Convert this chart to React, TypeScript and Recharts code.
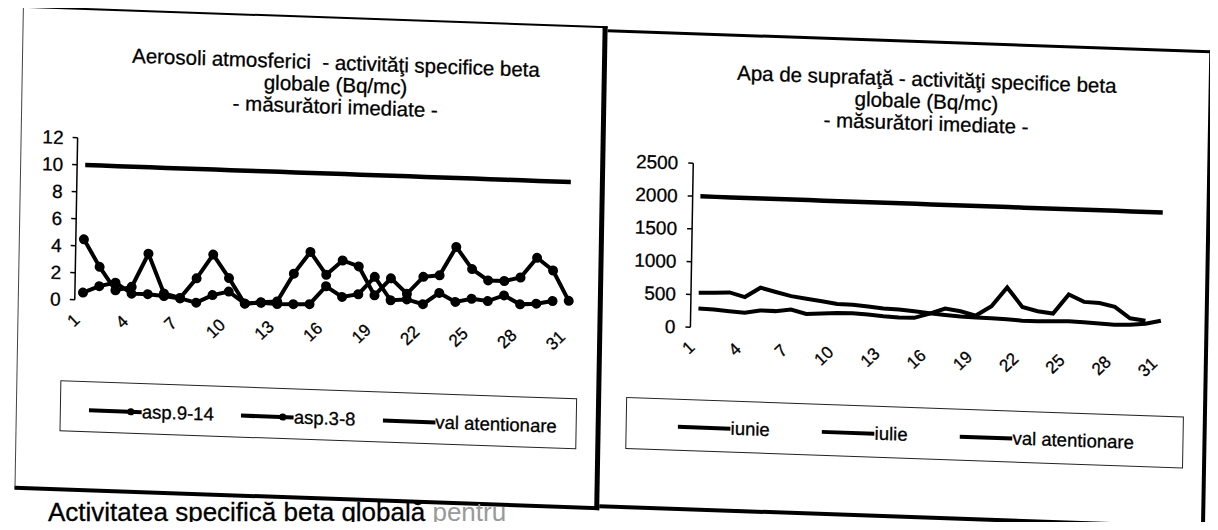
import React from 'react';
import { LineChart, Line, XAxis, YAxis, Legend } from 'recharts';

const FONT = '"Liberation Sans", Arial, sans-serif';

// zilele lunii
const days = [1, 2, 3, 4, 5, 6, 7, 8, 9, 10, 11, 12, 13, 14, 15, 16, 17, 18, 19, 20, 21, 22, 23, 24, 25, 26, 27, 28, 29, 30, 31];
const dayLabels = [1, 4, 7, 10, 13, 16, 19, 22, 25, 28, 31];

// Aerosoli atmosferici (Bq/mc)
const asp914 = [4.5, 2.5, 0.8, 1.1, 3.6, 0.7, 0.4, 1.9, 3.7, 2.0, 0.15, 0.3, 0.4, 2.5, 4.15, 2.5, 3.6, 3.2, 1.1, 2.4, 1.3, 2.6, 2.75, 4.9, 3.3, 2.5, 2.5, 2.8, 4.3, 3.4, 1.2];
const asp38 = [0.55, 1.07, 1.37, 0.6, 0.6, 0.5, 0.37, 0.1, 0.7, 1.0, 0.17, 0.25, 0.2, 0.24, 0.28, 1.65, 0.9, 1.14, 2.47, 0.78, 0.88, 0.57, 1.45, 0.82, 1.1, 0.97, 1.43, 0.81, 0.9, 1.14];
const valAerosoli = [10, 10, 10, 10, 10, 10, 10, 10, 10, 10, 10, 10, 10, 10, 10, 10, 10, 10, 10, 10, 10, 10, 10, 10, 10, 10, 10, 10, 10, 10, 10];
const aerosoliTicks = [0, 2, 4, 6, 8, 10, 12];

// Apa de suprafata (Bq/mc)
const iunie = [291, 283, 266, 249, 293, 291, 324, 265, 279, 297, 300, 288, 270, 258, 262, 335, 420, 388, 330, 480, 775, 486, 428, 401, 700, 596, 588, 536, 370, 340];
const iulie = [530, 538, 551, 489, 640, 583, 528, 495, 467, 433, 430, 410, 390, 380, 364, 341, 323, 306, 299, 297, 290, 277, 275, 285, 293, 286, 273, 265, 273, 297, 350];
const valApa = [2000, 2000, 2000, 2000, 2000, 2000, 2000, 2000, 2000, 2000, 2000, 2000, 2000, 2000, 2000, 2000, 2000, 2000, 2000, 2000, 2000, 2000, 2000, 2000, 2000, 2000, 2000, 2000, 2000, 2000, 2000];
const apaTicks = [0, 500, 1000, 1500, 2000, 2500];

const dayEdges = [...days.map((d) => d - 0.5), days.length + 0.5];
const xDomain = [0.5, days.length + 0.5];

const aerosoliData = days.map((d, i) => ({ zi: d, asp914: asp914[i], asp38: asp38[i], val: valAerosoli[i] }));
const apaData = days.map((d, i) => ({ zi: d, iunie: iunie[i], iulie: iulie[i], val: valApa[i] }));

const axisStroke = { stroke: '#000', strokeWidth: 1.5 };
const yTick = { fill: '#000', fontSize: 19, fontFamily: FONT, stroke: '#000', strokeWidth: 0.3 };

const XLabel = (props: any) => {
  const { x, y, payload } = props;
  const tx = x - 6;
  const ty = y + 17;
  return (
    <text x={tx} y={ty} dy="0.35em" textAnchor="end" transform={`rotate(-45 ${tx} ${ty})`}
      fill="#000" stroke="#000" strokeWidth={0.3} fontSize={17} fontFamily={FONT}>
      {payload.value}
    </text>
  );
};

const NoLabel = () => <g />;

// legenda in stil Excel: mostra de linie, apoi textul
const makeLegend = (order: string[], padLeft: number, gap: number, padTop: number, marked: string[]) => (props: any) => {
  const items = [...(props.payload || [])].sort((a: any, b: any) => order.indexOf(a.dataKey) - order.indexOf(b.dataKey));
  return (
    <div
      style={{
        display: 'flex',
        alignItems: 'center',
        width: '100%',
        height: '100%',
        boxSizing: 'border-box',
        paddingLeft: padLeft,
        paddingTop: padTop,
        gap,
        border: '1px solid #222',
        fontFamily: FONT,
        fontSize: 18.5,
        color: '#000',
        WebkitTextStroke: '0.3px #000',
      }}
    >
      {items.map((p: any) => (
        <div key={p.dataKey} style={{ display: 'flex', alignItems: 'center', whiteSpace: 'nowrap' }}>
          <svg width={53} height={10}>
            <line x1={0} y1={5} x2={53} y2={5} stroke="#000" strokeWidth={4} />
            {marked.includes(p.dataKey) && <circle cx={42} cy={5} r={3.5} fill="#000" />}
          </svg>
          <span>{p.value}</span>
        </div>
      ))}
    </div>
  );
};

const titleStyle: React.CSSProperties = {
  position: 'absolute',
  width: 560,
  textAlign: 'center',
  fontFamily: FONT,
  fontSize: 20.5,
  lineHeight: '22px',
  whiteSpace: 'pre',
  color: '#000',
  WebkitTextStroke: '0.3px #000',
};

const AerosoliChart = () => (
  <div style={{ position: 'absolute', left: 20, top: 120 }}>
    <LineChart width={580} height={320} data={aerosoliData} margin={{ top: 15, right: 18, bottom: 103, left: 0 }}>
      <XAxis xAxisId="tk" dataKey="zi" type="number" domain={xDomain} ticks={dayEdges} interval={0} height={0}
        tick={NoLabel} tickSize={5} tickLine={axisStroke} axisLine={axisStroke} />
      <XAxis xAxisId="lab" dataKey="zi" type="number" domain={xDomain} ticks={dayLabels} interval={0} height={40}
        tick={XLabel} tickLine={false} tickSize={0} tickMargin={0} axisLine={false} />
      <XAxis xAxisId="top" orientation="top" dataKey="zi" type="number" domain={xDomain} height={0}
        tick={false} tickLine={false} axisLine={{ stroke: '#000', strokeWidth: 1 }} />
      <YAxis yAxisId="l" domain={[0, 12]} ticks={aerosoliTicks} interval={0} width={60} tickSize={5} tickMargin={9}
        tickLine={axisStroke} axisLine={axisStroke} tick={yTick} />
      <YAxis yAxisId="r" orientation="right" domain={[0, 12]} width={0} tick={false} tickLine={false}
        axisLine={{ stroke: '#000', strokeWidth: 1 }} />
      <Line xAxisId="lab" yAxisId="l" type="linear" dataKey="asp914" name="asp.9-14" stroke="#000" strokeWidth={4}
        dot={{ r: 3, fill: '#000', stroke: '#000' }} isAnimationActive={false} />
      <Line xAxisId="lab" yAxisId="l" type="linear" dataKey="asp38" name="asp.3-8" stroke="#000" strokeWidth={4}
        dot={{ r: 3, fill: '#000', stroke: '#000' }} isAnimationActive={false} />
      <Line xAxisId="lab" yAxisId="l" type="linear" dataKey="val" name="val atentionare" stroke="#000" strokeWidth={4.5}
        dot={false} isAnimationActive={false} />
      <Legend layout="horizontal" verticalAlign="middle" align="center"
        wrapperStyle={{ left: 47, top: 258, width: 517, height: 51 }}
        content={makeLegend(['asp914', 'asp38', 'val'], 28, 27, 6, ['asp914', 'asp38'])} />
    </LineChart>
  </div>
);

const ApaChart = () => (
  <div style={{ position: 'absolute', left: 630, top: 120 }}>
    <LineChart width={560} height={320} data={apaData} margin={{ top: 19, right: 16, bottom: 97, left: 0 }}>
      <XAxis xAxisId="tk" dataKey="zi" type="number" domain={xDomain} ticks={dayEdges} interval={0} height={0}
        tick={NoLabel} tickSize={5} tickLine={axisStroke} axisLine={axisStroke} />
      <XAxis xAxisId="lab" dataKey="zi" type="number" domain={xDomain} ticks={dayLabels} interval={0} height={40}
        tick={XLabel} tickLine={false} tickSize={0} tickMargin={0} axisLine={false} />
      <XAxis xAxisId="top" orientation="top" dataKey="zi" type="number" domain={xDomain} height={0}
        tick={false} tickLine={false} axisLine={{ stroke: '#000', strokeWidth: 1 }} />
      <YAxis yAxisId="l" domain={[0, 2500]} ticks={apaTicks} interval={0} width={66} tickSize={5} tickMargin={10}
        tickLine={axisStroke} axisLine={axisStroke} tick={yTick} />
      <YAxis yAxisId="r" orientation="right" domain={[0, 2500]} width={0} tick={false} tickLine={false}
        axisLine={{ stroke: '#000', strokeWidth: 1 }} />
      <Line xAxisId="lab" yAxisId="l" type="linear" dataKey="iunie" name="iunie" stroke="#000" strokeWidth={4}
        dot={false} isAnimationActive={false} />
      <Line xAxisId="lab" yAxisId="l" type="linear" dataKey="iulie" name="iulie" stroke="#000" strokeWidth={4}
        dot={false} isAnimationActive={false} />
      <Line xAxisId="lab" yAxisId="l" type="linear" dataKey="val" name="val atentionare" stroke="#000" strokeWidth={4.5}
        dot={false} isAnimationActive={false} />
      <Legend layout="horizontal" verticalAlign="middle" align="center"
        wrapperStyle={{ left: 3, top: 255, width: 558, height: 52 }}
        content={makeLegend(['iunie', 'iulie', 'val'], 51, 52, 3, [])} />
    </LineChart>
  </div>
);

export default function App() {
  return (
    <div style={{ position: 'relative', width: 1218, height: 530, margin: -8, overflow: 'hidden', background: '#fff' }}>
      {/* pagina scanata e usor rotita */}
      <div style={{ position: 'absolute', left: 0, top: 0, width: 1218, height: 530, transformOrigin: '0 0', transform: 'rotate(1deg) skewY(1deg)' }}>
        <div style={{ position: 'absolute', left: 23, top: 5, width: 585, height: 484, boxSizing: 'border-box',
          borderTop: '2px solid #000', borderLeft: '1px solid #444', borderRight: '5px solid #000', borderBottom: '4px solid #000' }} />
        <div style={{ position: 'absolute', left: 608, top: 8, width: 606, height: 479, boxSizing: 'border-box',
          borderTop: '3px solid #000', borderRight: '4px solid #000', borderBottom: '4px solid #000' }} />

        <div style={{ ...titleStyle, left: 57, top: 40 }}>
          {'Aerosoli atmosferici  - activităţi specifice beta\nglobale (Bq/mc)\n- măsurători imediate -'}
        </div>
        <div style={{ ...titleStyle, left: 648, top: 36 }}>
          {'Apa de suprafaţă - activităţi specifice beta\nglobale (Bq/mc)\n- măsurători imediate -'}
        </div>

        <AerosoliChart />
        <ApaChart />
      </div>

      <div style={{ position: 'absolute', left: 48, top: 497, fontFamily: FONT, fontSize: 26, lineHeight: '30px',
        whiteSpace: 'nowrap', color: '#000', WebkitTextStroke: '0.3px #000' }}>
        Activitatea specifică beta globală <span style={{ color: '#999', WebkitTextStroke: '0px' }}>pentru</span>
      </div>
    </div>
  );
}
